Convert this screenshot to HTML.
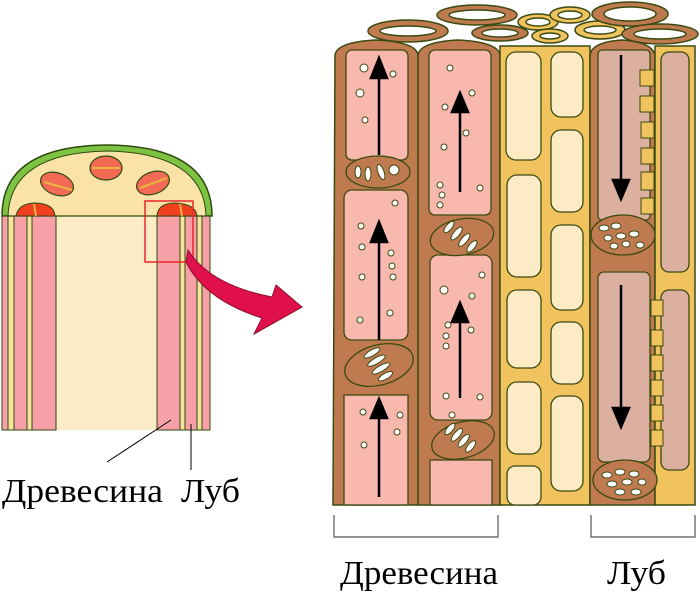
<!DOCTYPE html>
<html><head><meta charset="utf-8"><style>
html,body{margin:0;padding:0;background:#fff;width:700px;height:596px;overflow:hidden}
svg{display:block}
text{font-family:"Liberation Serif",serif;fill:#000}
</style></head><body>
<svg width="700" height="596" viewBox="0 0 700 596">
<!-- LEFT FIGURE -->
<path d="M2,216 Q2,146 107,145 Q212,146 212,216 Z" fill="#7ec242" stroke="#2e4a10" stroke-width="1.5"/>
<path d="M8,216 Q10,153 107,151 Q204,153 206,216 Z" fill="#fbe3a8" stroke="#2e4a10" stroke-width="1"/>
<rect x="2" y="216" width="208" height="214" fill="#fbecc6"/>
<g stroke="#2e4a10" stroke-width="1">
<rect x="2" y="216" width="6" height="214" fill="#f7a0a8"/>
<rect x="8" y="216" width="6" height="214" fill="#f5e49a"/>
<rect x="14" y="216" width="13" height="214" fill="#f7a0a8"/>
<rect x="27" y="216" width="5" height="214" fill="#f5e49a"/>
<rect x="32" y="216" width="24" height="214" fill="#f7a0a8"/>
<rect x="157" y="216" width="23" height="214" fill="#f7a0a8"/>
<rect x="180" y="216" width="5" height="214" fill="#f5e49a"/>
<rect x="185" y="216" width="12" height="214" fill="#f7a0a8"/>
<rect x="197" y="216" width="5" height="214" fill="#f5e49a"/>
<rect x="202" y="216" width="8" height="214" fill="#f7a0a8"/>
</g>
<line x1="2" y1="216" x2="210" y2="216" stroke="#2e4a10" stroke-width="1.2"/>
<path d="M16,216 Q18,204 34,203 Q54,203 55,216Z" fill="#f0401e" stroke="#2e4a10"/>
<path d="M157,216 Q158,203 175,203 Q196,204 197,216Z" fill="#f0401e" stroke="#2e4a10"/>
<g fill="#f36a55" stroke="#2e4a10" stroke-width="1.2">
<ellipse cx="57" cy="184" rx="17" ry="11" transform="rotate(20 57 184)"/>
<ellipse cx="106" cy="168" rx="16" ry="12"/>
<ellipse cx="153" cy="183" rx="17" ry="11" transform="rotate(-20 153 183)"/>
</g>
<g stroke="#e9b540" stroke-width="2" fill="none">
<line x1="44" y1="182" x2="72" y2="190"/><line x1="92" y1="168" x2="120" y2="168"/><line x1="140" y1="188" x2="167" y2="178"/>
<line x1="34" y1="204" x2="36" y2="216"/><line x1="180" y1="204" x2="182" y2="216"/>
</g>
<rect x="145" y="201" width="48" height="61" fill="none" stroke="#e8282a" stroke-width="1.5"/>
<path d="M188,250 Q210,285 272,297 L276,285 L302,307 L254,334 L262,318 Q205,300 186,262 Z" fill="#e0104a" stroke="#8a1030" stroke-width="1"/>
<line x1="107" y1="462" x2="171" y2="420" stroke="#000" stroke-width="1"/>
<line x1="191" y1="470" x2="191" y2="424" stroke="#000" stroke-width="1"/>
<text x="2" y="502" font-size="34" textLength="161" lengthAdjust="spacingAndGlyphs">Древесина</text>
<text x="181" y="502" font-size="34" textLength="59" lengthAdjust="spacingAndGlyphs">Луб</text>

<!-- RIGHT FIGURE -->
<g stroke="#3a4a10" stroke-width="1.5">
<ellipse cx="408" cy="31" rx="40" ry="11" fill="#c07a50"/><ellipse cx="408" cy="31" rx="28" ry="5" fill="#fff"/>
<ellipse cx="477" cy="15" rx="40" ry="10" fill="#c07a50"/><ellipse cx="477" cy="15" rx="28" ry="5" fill="#fff"/>
<ellipse cx="500" cy="33" rx="28" ry="8" fill="#c07a50"/><ellipse cx="500" cy="33" rx="18" ry="4" fill="#fff"/>
<ellipse cx="538" cy="22" rx="20" ry="8" fill="#f1c35e"/><ellipse cx="538" cy="22" rx="12" ry="4" fill="#fff"/>
<ellipse cx="570" cy="15" rx="20" ry="8" fill="#f1c35e"/><ellipse cx="570" cy="15" rx="12" ry="4" fill="#fff"/>
<ellipse cx="550" cy="36" rx="18" ry="7" fill="#f1c35e"/><ellipse cx="550" cy="36" rx="10" ry="3" fill="#fff"/>
<ellipse cx="600" cy="30" rx="25" ry="9" fill="#f1c35e"/><ellipse cx="600" cy="30" rx="16" ry="4" fill="#fff"/>
<ellipse cx="630" cy="14" rx="38" ry="12" fill="#c07a50"/><ellipse cx="630" cy="14" rx="26" ry="7" fill="#fff"/>
<ellipse cx="660" cy="34" rx="38" ry="10" fill="#c07a50"/><ellipse cx="660" cy="34" rx="26" ry="5" fill="#fff"/>
<path d="M335,55 Q337,42 376,40 Q416,42 418,55 L418,505 L333,505 Z" fill="#c07a50"/>
<path d="M418,55 Q420,42 458,40 Q498,42 500,55 L500,505 L418,505 Z" fill="#c07a50"/>
<rect x="500" y="46" width="90" height="459" fill="#f1c35e"/>
<path d="M590,55 Q592,42 622,40 Q652,42 655,55 L655,505 L590,505 Z" fill="#c07a50"/>
<rect x="655" y="46" width="40" height="459" fill="#f1c35e"/>
</g>
<g stroke="#3a4a10" stroke-width="1.3" fill="#f9b8ae">
<rect x="346" y="50" width="62" height="110" rx="6"/>
<rect x="344" y="190" width="64" height="150" rx="8"/>
<rect x="344" y="395" width="64" height="110"/>
<rect x="429" y="50" width="62" height="165" rx="6"/>
<rect x="430" y="255" width="62" height="165" rx="8"/>
<rect x="430" y="460" width="62" height="45"/>
</g>
<g stroke="#3a4a10" stroke-width="1.3" fill="#fcebc4">
<rect x="506" y="52" width="35" height="108" rx="10"/>
<rect x="507" y="175" width="34" height="102" rx="10"/>
<rect x="507" y="290" width="34" height="78" rx="10"/>
<rect x="507" y="382" width="34" height="72" rx="10"/>
<rect x="507" y="466" width="34" height="39" rx="8"/>
<rect x="551" y="52" width="32" height="65" rx="10"/>
<rect x="551" y="130" width="32" height="82" rx="10"/>
<rect x="551" y="225" width="32" height="85" rx="10"/>
<rect x="551" y="322" width="32" height="62" rx="10"/>
<rect x="551" y="396" width="32" height="95" rx="10"/>
<rect x="598" y="50" width="52" height="170" rx="4" fill="#dcb0a0"/>
<rect x="598" y="272" width="52" height="190" rx="6" fill="#dcb0a0"/>
<rect x="661" y="52" width="28" height="220" rx="8" fill="#dcb0a0"/>
<rect x="661" y="290" width="28" height="180" rx="8" fill="#dcb0a0"/>
</g>
<g stroke="#3a4a10" stroke-width="1.3" fill="#c07a50">
<ellipse cx="378" cy="172" rx="32" ry="16"/>
<ellipse cx="462" cy="237" rx="32" ry="18" transform="rotate(-10 462 237)"/>
<ellipse cx="379" cy="365" rx="35" ry="20" transform="rotate(-15 379 365)"/>
<ellipse cx="463" cy="440" rx="32" ry="18" transform="rotate(-15 463 440)"/>
<ellipse cx="623" cy="235" rx="32" ry="20"/>
<ellipse cx="625" cy="480" rx="32" ry="20"/>
</g>
<g fill="#fff" stroke="#3a4a10" stroke-width="1">
<ellipse cx="358" cy="172" rx="3" ry="6"/><ellipse cx="368" cy="174" rx="3" ry="7"/><ellipse cx="381" cy="172" rx="3" ry="8" transform="rotate(-20 381 172)"/><ellipse cx="394" cy="170" rx="5" ry="5"/>
<g transform="rotate(40 462 238)"><ellipse cx="445" cy="238" rx="3" ry="7"/><ellipse cx="455" cy="238" rx="3" ry="8"/><ellipse cx="465" cy="238" rx="3" ry="8"/><ellipse cx="475" cy="238" rx="3" ry="7"/></g>
<g transform="rotate(60 379 365)"><ellipse cx="365" cy="365" rx="3" ry="9"/><ellipse cx="374" cy="365" rx="3" ry="10"/><ellipse cx="383" cy="365" rx="3" ry="10"/><ellipse cx="392" cy="365" rx="3" ry="8"/></g>
<g transform="rotate(40 463 440)"><ellipse cx="446" cy="440" rx="3" ry="7"/><ellipse cx="455" cy="440" rx="3" ry="8"/><ellipse cx="464" cy="440" rx="3" ry="8"/><ellipse cx="473" cy="440" rx="3" ry="7"/></g>
<ellipse cx="604" cy="228" rx="5" ry="3"/><ellipse cx="616" cy="226" rx="5" ry="3"/><ellipse cx="608" cy="238" rx="4" ry="3"/><ellipse cx="621" cy="236" rx="5" ry="3"/><ellipse cx="634" cy="234" rx="5" ry="3"/><ellipse cx="626" cy="244" rx="4" ry="3"/><ellipse cx="640" cy="245" rx="4" ry="3"/><ellipse cx="614" cy="246" rx="4" ry="3"/>
<ellipse cx="607" cy="475" rx="5" ry="3"/><ellipse cx="620" cy="472" rx="5" ry="3"/><ellipse cx="634" cy="474" rx="5" ry="3"/><ellipse cx="612" cy="484" rx="5" ry="3"/><ellipse cx="627" cy="482" rx="5" ry="3"/><ellipse cx="642" cy="482" rx="4" ry="3"/><ellipse cx="620" cy="492" rx="5" ry="3"/><ellipse cx="636" cy="492" rx="5" ry="3"/>
<circle cx="364" cy="68" r="4"/><circle cx="393" cy="74" r="3"/><circle cx="360" cy="93" r="4"/><circle cx="365" cy="120" r="3"/>
<circle cx="395" cy="203" r="3"/><circle cx="361" cy="226" r="3"/><circle cx="362" cy="247" r="3"/><circle cx="391" cy="253" r="3"/><circle cx="392" cy="266" r="3"/><circle cx="362" cy="277" r="3"/><circle cx="393" cy="277" r="3"/><circle cx="360" cy="320" r="3"/><circle cx="390" cy="313" r="3"/>
<circle cx="450" cy="68" r="3"/><circle cx="472" cy="93" r="3"/><circle cx="445" cy="107" r="3"/><circle cx="466" cy="133" r="3"/><circle cx="444" cy="147" r="3"/><circle cx="440" cy="185" r="3"/><circle cx="442" cy="195" r="3"/><circle cx="440" cy="205" r="3"/><circle cx="480" cy="188" r="3"/>
<circle cx="482" cy="275" r="3"/><circle cx="444" cy="290" r="4"/><circle cx="472" cy="296" r="3"/><circle cx="448" cy="325" r="3"/><circle cx="446" cy="336" r="3"/><circle cx="446" cy="346" r="3"/><circle cx="471" cy="330" r="3"/><circle cx="446" cy="396" r="3"/><circle cx="480" cy="397" r="3"/><circle cx="452" cy="415" r="3"/>
<circle cx="363" cy="412" r="3"/><circle cx="400" cy="415" r="3"/><circle cx="397" cy="432" r="3"/><circle cx="364" cy="445" r="3"/>
</g>
<g stroke="#3a4a10" stroke-width="1" fill="#f1c35e">
<rect x="640" y="70" width="14" height="16"/><rect x="640" y="96" width="14" height="16"/><rect x="641" y="122" width="13" height="16"/><rect x="641" y="148" width="13" height="16"/><rect x="641" y="172" width="13" height="18"/><rect x="641" y="198" width="13" height="16"/>
<rect x="651" y="300" width="12" height="16"/><rect x="651" y="330" width="12" height="16"/><rect x="651" y="355" width="12" height="16"/><rect x="651" y="380" width="12" height="16"/><rect x="651" y="405" width="12" height="16"/><rect x="651" y="430" width="12" height="16"/>
</g>
<g stroke="#000" stroke-width="2.5" fill="#000">
<line x1="379" y1="155" x2="379" y2="72"/><path d="M371,78 L379,58 L387,78Z"/>
<line x1="460" y1="192" x2="460" y2="108"/><path d="M452,112 L460,93 L468,112Z"/>
<line x1="379" y1="340" x2="379" y2="236"/><path d="M371,242 L379,222 L387,242Z"/>
<line x1="460" y1="398" x2="460" y2="318"/><path d="M452,322 L460,303 L468,322Z"/>
<line x1="379" y1="497" x2="379" y2="412"/><path d="M371,418 L379,399 L387,418Z"/>
<line x1="621" y1="55" x2="621" y2="186"/><path d="M613,180 L621,199 L629,180Z"/>
<line x1="621" y1="285" x2="621" y2="414"/><path d="M613,408 L621,427 L629,408Z"/>
</g>
<path d="M334,515 V537 H498 V515" fill="none" stroke="#555" stroke-width="1.2"/>
<path d="M591,515 V537 H695 V515" fill="none" stroke="#555" stroke-width="1.2"/>
<text x="340" y="584" font-size="34" textLength="158" lengthAdjust="spacingAndGlyphs">Древесина</text>
<text x="607" y="584" font-size="34" textLength="59" lengthAdjust="spacingAndGlyphs">Луб</text>
</svg>
</body></html>
